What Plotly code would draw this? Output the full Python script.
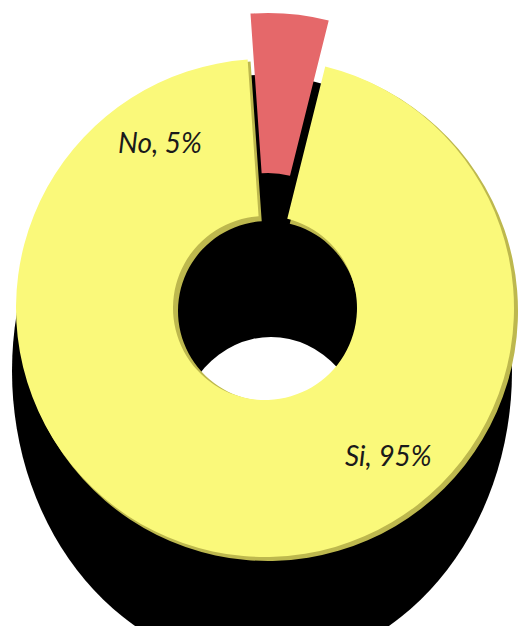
import plotly.graph_objects as go

# ---- data ----
labels = ["No", "Si"]
values = [5, 95]
colors = {"No": "#E5686A", "Si": "#FAF97A"}
rim_color = "#BDB84E"

W, H = 519, 626


def xdom(x0, x1):
    return [x0 / W, x1 / W]


def ydom(top, bottom):
    return [1 - bottom / H, 1 - top / H]


def ring(cx, cy, r, inner, slice_colors, name):
    return go.Pie(
        labels=labels, values=values, sort=False, direction="clockwise",
        rotation=-4, hole=inner / r, name=name,
        marker=dict(colors=slice_colors, line=dict(width=0)),
        textinfo="none", hoverinfo="label+percent",
        domain=dict(x=xdom(cx - r, cx + r), y=ydom(cy - r, cy + r)),
    )


clear = "rgba(0,0,0,0)"
fig = go.Figure()

# darker rim (bevel) behind the yellow ring, offset down-right
fig.add_trace(ring(268, 311, 250, 90, [clear, rim_color], "rim"))
# yellow ring (No slice left empty so the gap shows)
fig.add_trace(ring(265, 308, 249, 92, [clear, colors["Si"]], "Si"))
# red slice, exploded upward (Si slice left empty)
fig.add_trace(ring(268, 264, 251, 91, [colors["No"], clear], "No"))

total = sum(values)
label_pos = {"No": (160, 142), "Si": (388, 455)}
annotations = []
for lab, val in zip(labels, values):
    px, py = label_pos[lab]
    annotations.append(dict(
        x=px / W, y=1 - py / H, xref="paper", yref="paper",
        text=f"{lab}, {round(100 * val / total)}%", showarrow=False,
        font=dict(family="Lato", size=28, color="#1a1a1a", style="italic"),
        xanchor="center", yanchor="middle",
    ))

shapes = [
    # drop shadow
    dict(type="circle", xref="paper", yref="paper", layer="below",
         x0=12 / W, x1=512 / W, y0=1 - 667 / H, y1=1 - 75 / H,
         fillcolor="black", line=dict(width=0)),
    # shadow hole
    dict(type="circle", xref="paper", yref="paper", layer="below",
         x0=177 / W, x1=365 / W, y0=1 - 547 / H, y1=1 - 337 / H,
         fillcolor="white", line=dict(width=0)),
]

fig.update_layout(
    width=W, height=H, margin=dict(l=0, r=0, t=0, b=0),
    paper_bgcolor="white", plot_bgcolor="white",
    showlegend=False, annotations=annotations, shapes=shapes,
)

fig.write_html(
    "out.html",
    config={"displayModeBar": False},
    post_script="document.body.style.margin='0';document.body.style.overflow='hidden';",
)
